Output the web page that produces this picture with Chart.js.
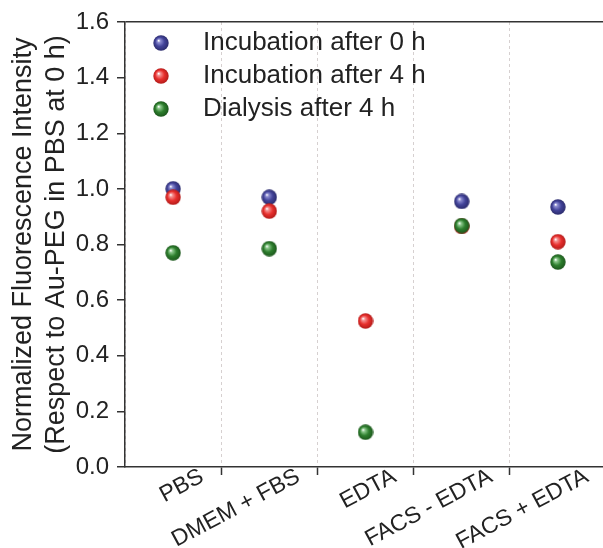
<!DOCTYPE html>
<html lang="en">
<head>
    <meta charset="UTF-8">
    <title>Normalized Fluorescence Intensity</title>
    <script src="https://cdn.jsdelivr.net/npm/chart.js"></script>
    <style>
        body { margin: 0; overflow: hidden; background: #fff; }
        #wrap { width: 611px; height: 548px; }
    </style>
</head>
<body>
    <div id="wrap"><canvas id="fluoChart" width="611" height="548"></canvas></div>

    <script>
        // categories (x axis)
        const conditions = ["PBS", "DMEM + FBS", "EDTA", "FACS - EDTA", "FACS + EDTA"];
        // series values
        const incub0h = [1.00, 0.97, null, 0.955, 0.935];
        const incub4h = [0.97, 0.92, 0.525, 0.865, 0.81];
        const dialysis4h = [0.77, 0.785, 0.125, 0.868, 0.737];
        // y tick labels (major) and minor tick positions
        const yTicks = [0.0, 0.2, 0.4, 0.6, 0.8, 1.0, 1.2, 1.4, 1.6];
        const yMinorTicks = [0.1, 0.3, 0.5, 0.7, 0.9, 1.1, 1.3, 1.5];

        const font = "'Liberation Sans', Arial, sans-serif";

        // shaded ball used as point style
        function makeBall(base, dark, light) {
            const r = 8;
            const c = document.createElement("canvas");
            c.width = c.height = r * 2;
            const g = c.getContext("2d");
            const grad = g.createRadialGradient(r - 2.5, r - 2.5, 0.3, r, r, r);
            grad.addColorStop(0, "#ffffff");
            grad.addColorStop(0.18, light);
            grad.addColorStop(0.55, base);
            grad.addColorStop(1, dark);
            g.fillStyle = grad;
            g.beginPath();
            g.arc(r, r, r - 0.3, 0, Math.PI * 2);
            g.fill();
            return c;
        }

        const blueBall = makeBall("#43449a", "#2a2a6a", "#8c8cd0");
        const redBall = makeBall("#e8302e", "#b01a18", "#f49090");
        const greenBall = makeBall("#2e7f2e", "#1b551b", "#8cc88c");

        const ctx = document.getElementById("fluoChart").getContext("2d");
        new Chart(ctx, {
            type: "line",
            data: {
                labels: conditions,
                datasets: [
                    { label: "Incubation after 0 h", data: incub0h, pointStyle: blueBall, showLine: false, order: 3 },
                    { label: "Incubation after 4 h", data: incub4h, pointStyle: redBall, showLine: false, order: 2 },
                    { label: "Dialysis after 4 h", data: dialysis4h, pointStyle: greenBall, showLine: false, order: 1 },
                ],
            },
            options: {
                responsive: false,
                animation: false,
                layout: { padding: { top: 22, right: 0, left: 0, bottom: 0 } },
                plugins: {
                    tooltip: { enabled: false },
                    legend: {
                        position: "chartArea",
                        align: "start",
                        title: {
                            display: true,
                            text: " ",
                            color: "transparent",
                            font: { size: 1, lineHeight: "1px" },
                            padding: { top: 22, bottom: 0 },
                        },
                        labels: {
                            usePointStyle: true,
                            pointStyleWidth: 58,
                            padding: 7,
                            color: "#222",
                            font: { family: font, size: 26 },
                            sort: (a, b) => a.datasetIndex - b.datasetIndex,
                        },
                    },
                },
                scales: {
                    x: {
                        offset: true,
                        grid: {
                            offset: true,
                            color: "#d6d0d0",
                            lineWidth: 1,
                            tickLength: 8,
                            tickColor: (c) => (c.index === 0 ? "transparent" : "#333"),
                            tickWidth: 1.5,
                        },
                        border: { color: "#333", width: 1.5, dash: [3, 3] },
                        ticks: {
                            color: "#222",
                            font: { family: font, size: 23 },
                            minRotation: 28,
                            maxRotation: 28,
                            labelOffset: 29,
                            padding: -12,
                        },
                        afterFit: (s) => { s.height = 81; s.paddingLeft = 0; s.paddingRight = 0; },
                    },
                    y: {
                        min: 0,
                        max: 1.6,
                        grid: {
                            drawOnChartArea: true,
                            color: (c) => (c.tick && Math.abs(c.tick.value - 1.6) < 1e-6 ? "#333" : "transparent"),
                            lineWidth: 1.5,
                            tickLength: 8,
                            tickColor: "#333",
                            tickWidth: 1.5,
                        },
                        border: { color: "#333", width: 1.5 },
                        afterBuildTicks: (s) => {
                            s.ticks = yTicks.map((v) => ({ value: v }));
                        },
                        ticks: {
                            color: "#222",
                            font: { family: font, size: 24 },
                            padding: 8,
                            callback: (v) => v.toFixed(1),
                        },
                        title: {
                            display: true,
                            text: ["Normalized Fluorescence Intensity", "(Respect to Au-PEG in PBS at 0 h)"],
                            color: "#222",
                            font: { family: font, size: 27, lineHeight: 1.22 },
                            padding: { top: 7, bottom: 0 },
                        },
                        afterFit: (s) => { s.width = 125; s.paddingTop = 0; s.paddingBottom = 0; },
                    },
                    yMinor: {
                        position: "left",
                        min: 0,
                        max: 1.6,
                        grid: {
                            drawOnChartArea: false,
                            tickLength: 4,
                            tickColor: "#333",
                            tickWidth: 1.5,
                        },
                        border: { display: false },
                        afterBuildTicks: (s) => {
                            s.ticks = yMinorTicks.map((v) => ({ value: v }));
                        },
                        ticks: { display: false },
                        afterFit: (s) => { s.width = 0; },
                    },
                },
            },
        });
    </script>
</body>
</html>
